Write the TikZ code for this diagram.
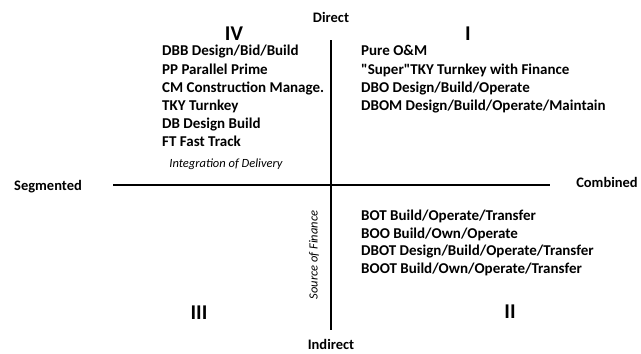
\documentclass[tikz,border=0pt]{standalone}
\usepackage{fontspec}
\setmainfont{Carlito}[Ligatures=TeXOff]
\begin{document}
\begin{tikzpicture}[x=1pt,y=-1pt,
  item/.style={anchor=base west,font=\bfseries\fontsize{15}{17}\selectfont,inner sep=0pt},
  axislab/.style={anchor=base,font=\bfseries\fontsize{14.5}{16}\selectfont,inner sep=0pt},
  quad/.style={anchor=base,font=\bfseries\fontsize{21}{23}\selectfont,inner sep=0pt},
  note/.style={font=\itshape\fontsize{12.5}{14}\selectfont,inner sep=0pt},
  axis/.style={line width=2pt}]
\useasboundingbox (0,0) rectangle (641,354);
\coordinate (vt) at (331,40);
\coordinate (vb) at (331,330);
\coordinate (hl) at (113,185);
\coordinate (hr) at (550,185);
\draw[axis] (vt) -- (vb);
\draw[axis] (hl) -- (hr);
\node[axislab] (direct) at (331,22) {Direct};
\node[axislab] (indirect) at (331,349) {Indirect};
\node[axislab] (seg) at (48,190) {Segmented};
\node[axislab] (comb) at (607,187) {Combined};
\node[quad] (q4) at (234,40) {IV};
\node[quad] (q1) at (468,40) {I};
\node[quad] (q3) at (199,319) {III};
\node[quad] (q2) at (510,318) {II};
\node[note] (integ) at (226,164) {Integration of Delivery};
\node[note,rotate=90] (src) at (314,255) {Source of Finance};
\node[item] (l1) at (162,55) {DBB Design/Bid/Build};
\node[item] (l2) at (162,74) {PP Parallel Prime};
\node[item] (l3) at (162,92) {CM Construction Manage.};
\node[item] (l4) at (162,110) {TKY Turnkey};
\node[item] (l5) at (162,128) {DB Design Build};
\node[item] (l6) at (162,146) {FT Fast Track};
\node[item] (r1) at (361,55) {Pure O\&M};
\node[item] (r2) at (361,74) {"Super"TKY Turnkey with Finance};
\node[item] (r3) at (361,92) {DBO Design/Build/Operate};
\node[item] (r4) at (361,110) {DBOM Design/Build/Operate/Maintain};
\node[item] (b1) at (361,220) {BOT Build/Operate/Transfer};
\node[item] (b2) at (361,238) {BOO Build/Own/Operate};
\node[item] (b3) at (361,255) {DBOT Design/Build/Operate/Transfer};
\node[item] (b4) at (361,273) {BOOT Build/Own/Operate/Transfer};
\end{tikzpicture}
\end{document}
